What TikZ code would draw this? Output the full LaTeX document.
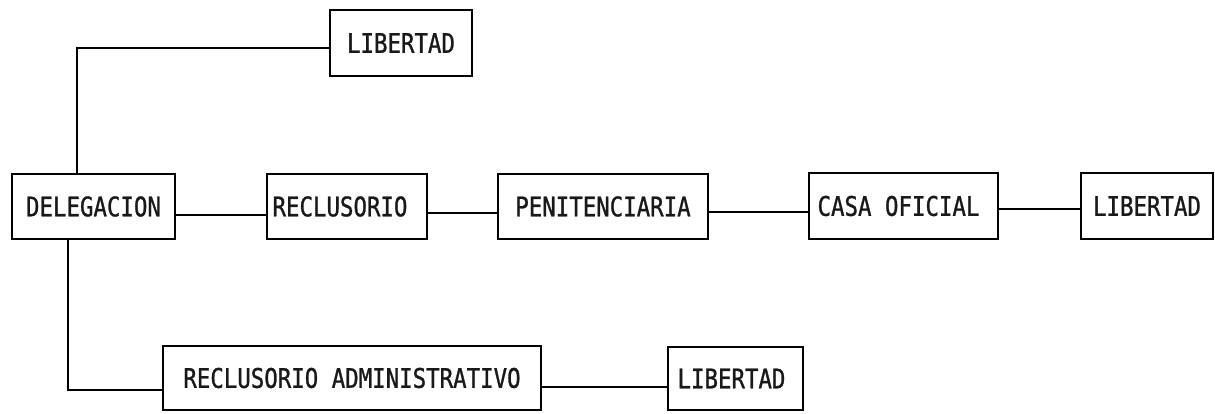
\documentclass[tikz,border=0pt]{standalone}
\usepackage{fontspec}
\newfontfamily\twfont[FakeStretch=0.83,FakeBold=1]{DejaVu Sans Mono}
\begin{document}
\begin{tikzpicture}[x=1pt,y=1pt,
  box/.style={draw=black, line width=1.3pt, inner sep=0pt, outer sep=0pt,
    font=\twfont\fontsize{27}{30}\selectfont, text=black!90},
  conn/.style={draw=black, line width=1.2pt}]
\useasboundingbox[fill=white] (0,0) rectangle (1215,413);
\node[box, minimum width=142pt, minimum height=66pt] (lib1) at (401,370) {LIBERTAD};
\node[box, minimum width=163pt, minimum height=65pt] (del) at (93.5,206.5) {DELEGACION};
\node[box, minimum width=160pt, minimum height=65pt] (rec) at (347,206.5) {\hspace*{-14pt}RECLUSORIO};
\node[box, minimum width=210pt, minimum height=65pt] (pen) at (603,206.5) {PENITENCIARIA};
\node[box, minimum width=189pt, minimum height=66pt] (casa) at (903.5,207) {\hspace*{-10pt}CASA OFICIAL};
\node[box, minimum width=132pt, minimum height=66pt] (lib2) at (1147,207) {LIBERTAD};
\node[box, minimum width=378pt, minimum height=64pt] (recadm) at (352,35) {RECLUSORIO ADMINISTRATIVO};
\node[box, minimum width=135pt, minimum height=63pt] (lib3) at (735.5,34.5) {\hspace*{-8pt}LIBERTAD};
\coordinate (j1) at (77,365);
\coordinate (j2) at (68,23);
\draw[conn] (del.north -| j1) -- (j1) -- (j1 -| lib1.west);
\draw[conn] ([yshift=-8.5pt]del.east) -- ([yshift=-8.5pt]del.east -| rec.west);
\draw[conn] ([yshift=-6.5pt]rec.east) -- ([yshift=-6.5pt]rec.east -| pen.west);
\draw[conn] ([yshift=-5.5pt]pen.east) -- ([yshift=-5.5pt]pen.east -| casa.west);
\draw[conn] ([yshift=-3pt]casa.east) -- ([yshift=-3pt]casa.east -| lib2.west);
\draw[conn] (del.south -| j2) -- (j2) -- (j2 -| recadm.west);
\draw[conn] ([yshift=-9pt]recadm.east) -- ([yshift=-9pt]recadm.east -| lib3.west);
\end{tikzpicture}
\end{document}
